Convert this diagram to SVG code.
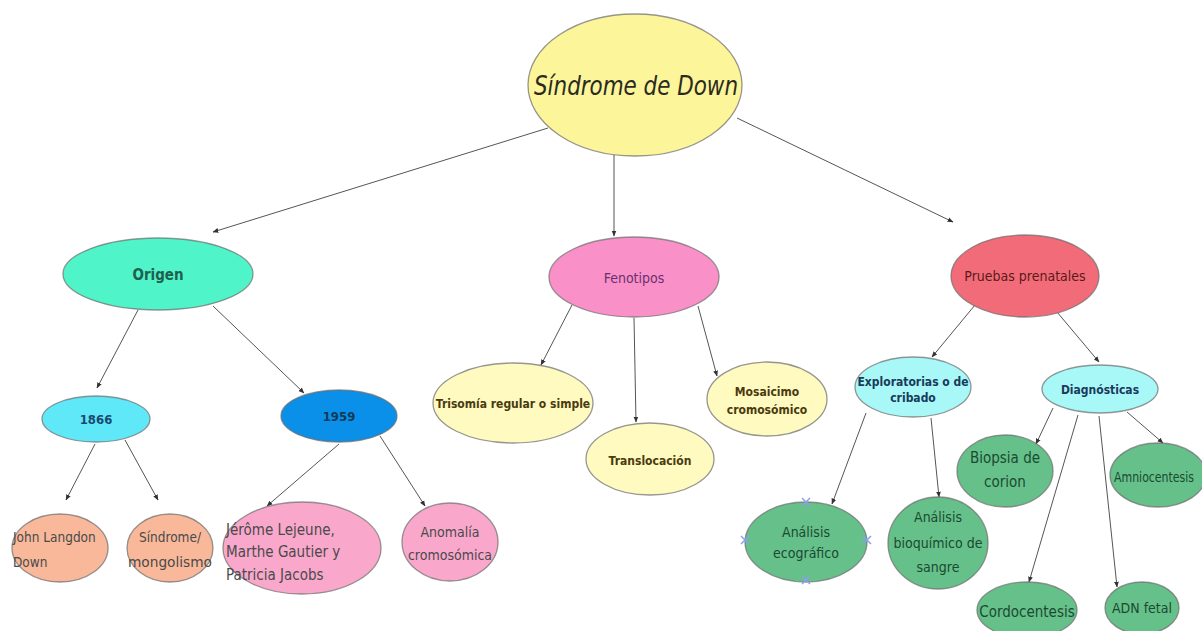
<svg xmlns="http://www.w3.org/2000/svg" width="1202" height="631" viewBox="0 0 1202 631">
<defs>
<marker id="arr" viewBox="0 0 10 10" refX="9" refY="5" markerWidth="6" markerHeight="6" orient="auto" markerUnits="userSpaceOnUse">
<path d="M0,1 L10,5 L0,9 z" fill="#333"/>
</marker>
<style>
.n{stroke:#6b6b6b;stroke-opacity:0.7;stroke-width:1.3}
.c line{stroke:#555;stroke-width:1;marker-end:url(#arr)}
.t{font-family:"DejaVu Sans Condensed","DejaVu Sans",sans-serif;font-stretch:condensed;text-anchor:middle}
.l{text-anchor:start}
.b{font-weight:bold}
.x{stroke:#8aa0e8;stroke-width:1.5}
</style>
</defs>
<rect width="1202" height="631" fill="#ffffff"/>
<g class="c" id="connectors">
<line x1="548" y1="128" x2="213" y2="232"/>
<line x1="614" y1="150" x2="614" y2="236"/>
<line x1="737" y1="118" x2="953" y2="222"/>
<line x1="138" y1="310" x2="97" y2="388"/>
<line x1="213" y1="306" x2="304" y2="393"/>
<line x1="95" y1="444" x2="66" y2="500"/>
<line x1="125" y1="440" x2="158" y2="500"/>
<line x1="339" y1="444" x2="267" y2="506"/>
<line x1="380" y1="436" x2="425" y2="506"/>
<line x1="572" y1="305" x2="541" y2="365"/>
<line x1="634" y1="318" x2="636" y2="422"/>
<line x1="698" y1="306" x2="717" y2="376"/>
<line x1="975" y1="305" x2="932" y2="357"/>
<line x1="1057" y1="312" x2="1099" y2="362"/>
<line x1="866" y1="413" x2="832" y2="504"/>
<line x1="931" y1="418" x2="939" y2="497"/>
<line x1="1053" y1="408" x2="1036" y2="444"/>
<line x1="1078" y1="415" x2="1029" y2="582"/>
<line x1="1099" y1="416" x2="1117" y2="587"/>
<line x1="1127" y1="412" x2="1163" y2="443"/>
</g>
<g id="sindrome">
<ellipse class="n" cx="635" cy="85" rx="107" ry="71" fill="#fdf59a"/>
<text x="636" y="95" font-family="'DejaVu Sans Condensed','DejaVu Sans',sans-serif" font-style="italic" font-size="27" fill="#2a2a20" text-anchor="middle" textLength="204" lengthAdjust="spacingAndGlyphs">Síndrome de Down</text>
</g>
<g id="origen">
<ellipse class="n" cx="158" cy="274" rx="95" ry="36" fill="#4ff5c8"/>
<text class="t b" x="158" y="280" font-size="15" fill="#1f5f50">Origen</text>
</g>
<g id="n1866">
<ellipse class="n" cx="96" cy="419" rx="54" ry="23" fill="#5ee8f8"/>
<text class="t b" x="96" y="424" font-size="13" fill="#1a4a70">1866</text>
</g>
<g id="n1959">
<ellipse class="n" cx="339" cy="416" rx="58" ry="26" fill="#0a90e8"/>
<text class="t b" x="339" y="421" font-size="13" fill="#123a5a">1959</text>
</g>
<g id="john">
<ellipse class="n" cx="60" cy="548" rx="48" ry="34" fill="#f9b89a"/>
<text class="t l" x="13" y="542" font-size="13.5" fill="#4a4a4a">John Langdon</text>
<text class="t l" x="13" y="567" font-size="13.5" fill="#4a4a4a">Down</text>
</g>
<g id="mongolismo">
<ellipse class="n" cx="170" cy="548" rx="43" ry="34" fill="#f9b89a"/>
<text class="t" x="170" y="542" font-size="13.5" fill="#4a4a4a">Síndrome/</text>
<text class="t" x="170" y="567" font-size="13.5" fill="#4a4a4a" textLength="84" lengthAdjust="spacingAndGlyphs">mongolismo</text>
</g>
<g id="jerome">
<ellipse class="n" cx="302" cy="548" rx="79" ry="46" fill="#f9a8cc"/>
<text class="t l" x="226" y="535" font-size="15" fill="#4a4a4a">Jérôme Lejeune,</text>
<text class="t l" x="226" y="557" font-size="15" fill="#4a4a4a">Marthe Gautier  y</text>
<text class="t l" x="226" y="580" font-size="15" fill="#4a4a4a">Patricia Jacobs</text>
</g>
<g id="anomalia">
<ellipse class="n" cx="450" cy="542" rx="48" ry="39" fill="#f9a8cc"/>
<text class="t" x="450" y="537" font-size="14" fill="#4a4a4a">Anomalía</text>
<text class="t" x="450" y="560" font-size="14" fill="#4a4a4a">cromosómica</text>
</g>
<g id="fenotipos">
<ellipse class="n" cx="634" cy="277" rx="85" ry="40" fill="#f990c8"/>
<text class="t" x="634" y="283" font-size="14" fill="#6a3070">Fenotipos</text>
</g>
<g id="trisomia">
<ellipse class="n" cx="513" cy="403" rx="80" ry="40" fill="#fffac0"/>
<text class="t b" x="513" y="408" font-size="12" fill="#4a3a10">Trisomía regular o simple</text>
</g>
<g id="translocacion">
<ellipse class="n" cx="650" cy="459" rx="64" ry="36" fill="#fffac0"/>
<text class="t b" x="650" y="465" font-size="12" fill="#4a3a10">Translocación</text>
</g>
<g id="mosaicimo">
<ellipse class="n" cx="767" cy="399" rx="60" ry="37" fill="#fffac0"/>
<text class="t b" x="767" y="396" font-size="12" fill="#4a3a10">Mosaicimo</text>
<text class="t b" x="767" y="414" font-size="12" fill="#4a3a10">cromosómico</text>
</g>
<g id="pruebas">
<ellipse class="n" cx="1025" cy="276" rx="74" ry="41" fill="#f26b78"/>
<text class="t" x="1025" y="281" font-size="14" fill="#5a1a1a">Pruebas prenatales</text>
</g>
<g id="exploratorias">
<ellipse class="n" cx="913" cy="387" rx="58" ry="30" fill="#a8f8f8"/>
<text class="t b" x="913" y="386" font-size="12" fill="#1a3a5a">Exploratorias o de</text>
<text class="t b" x="913" y="402" font-size="12" fill="#1a3a5a">cribado</text>
</g>
<g id="diagnosticas">
<ellipse class="n" cx="1100" cy="389" rx="58" ry="24" fill="#a8f8f8"/>
<text class="t b" x="1100" y="394" font-size="12" fill="#1a3a5a">Diagnósticas</text>
</g>
<g id="ecografico">
<ellipse class="n" cx="806" cy="542" rx="61" ry="40" fill="#66c08a"/>
<text class="t" x="806" y="537" font-size="14" fill="#1a4a30">Análisis</text>
<text class="t" x="806" y="558" font-size="14" fill="#1a4a30">ecográfico</text>
<g class="x">
<path d="M802,498 l8,8 M810,498 l-8,8"/>
<path d="M802,576 l8,8 M810,576 l-8,8"/>
<path d="M741,536 l8,8 M749,536 l-8,8"/>
<path d="M863,536 l8,8 M871,536 l-8,8"/>
</g>
</g>
<g id="bioquimico">
<ellipse class="n" cx="938" cy="543" rx="50" ry="46" fill="#66c08a"/>
<text class="t" x="938" y="522" font-size="14" fill="#1a4a30">Análisis</text>
<text class="t" x="938" y="548" font-size="14" fill="#1a4a30">bioquímico de</text>
<text class="t" x="938" y="572" font-size="14" fill="#1a4a30">sangre</text>
</g>
<g id="biopsia">
<ellipse class="n" cx="1005" cy="471" rx="48" ry="36" fill="#66c08a"/>
<text class="t" x="1005" y="463" font-size="15" fill="#1a4a30">Biopsia de</text>
<text class="t" x="1005" y="487" font-size="15" fill="#1a4a30">corion</text>
</g>
<g id="amniocentesis">
<ellipse class="n" cx="1158" cy="475" rx="48" ry="32" fill="#66c08a"/>
<text class="t l" x="1114" y="482" font-size="14" fill="#1a4a30" textLength="80" lengthAdjust="spacingAndGlyphs">Amniocentesis</text>
</g>
<g id="cordocentesis">
<ellipse class="n" cx="1027" cy="610" rx="50" ry="28" fill="#66c08a"/>
<text class="t" x="1027" y="617" font-size="15" fill="#1a4a30">Cordocentesis</text>
</g>
<g id="adn">
<ellipse class="n" cx="1142" cy="608" rx="37" ry="26" fill="#66c08a"/>
<text class="t" x="1142" y="613" font-size="14" fill="#1a4a30">ADN fetal</text>
</g>
</svg>
